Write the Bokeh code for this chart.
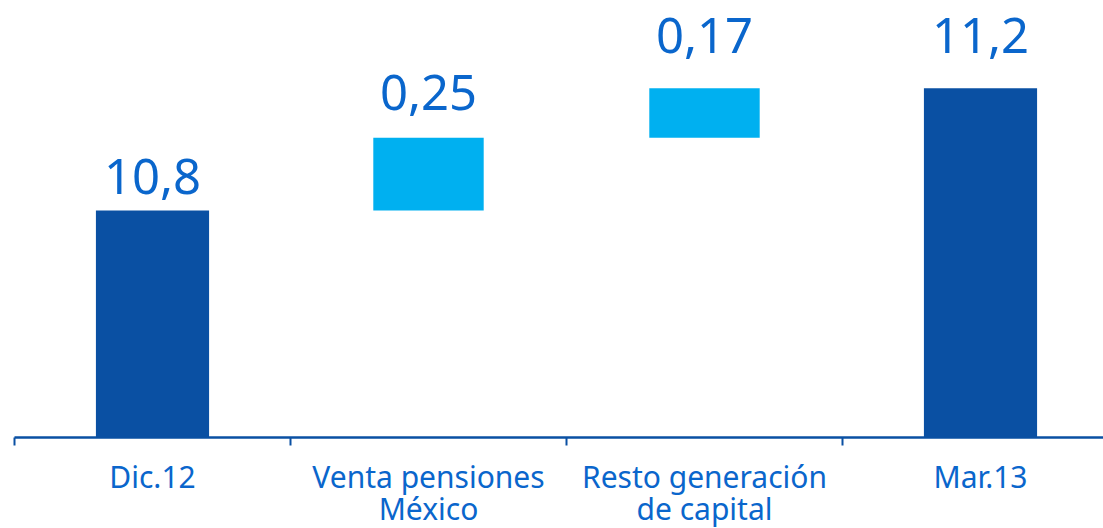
from bokeh.plotting import figure
from bokeh.models import ColumnDataSource, Range1d, FixedTicker
from bokeh.core.properties import value
from bokeh.embed import file_html
from bokeh.resources import INLINE

categories = ["Dic.12", "Venta pensiones\nMéxico", "Resto generación\nde capital", "Mar.13"]
amounts = [10.78, 0.25, 0.17, 11.20]
kinds = ["total", "delta", "delta", "total"]
value_labels = ["10,8", "0,25", "0,17", "11,2"]

DARK = "#0A50A3"
LIGHT = "#00B0F0"
TEXT = "#0A66CC"
FONT = "Noto Sans"
AXIS_MIN = 10.0

# waterfall geometry derived from the data
bottoms, tops, xs = [], [], []
running = 0.0
for i, (a, k) in enumerate(zip(amounts, kinds)):
    if k == "total":
        b, t = AXIS_MIN, a
        running = a
    else:
        b, t = running, running + a
        running = t
    bottoms.append(b)
    tops.append(t)
    xs.append(i + 0.5)

colors = [DARK if k == "total" else LIGHT for k in kinds]
widths = [0.41 if k == "total" else 0.40 for k in kinds]
label_offsets = [-34, -45, -53, -53]

src = ColumnDataSource(dict(x=xs, bottom=bottoms, top=tops, color=colors, w=widths,
                            label=value_labels, yoff=label_offsets))

p = figure(frame_width=1089, frame_height=437, output_backend="svg", toolbar_location=None,
           x_range=Range1d(0, 1089 / 276), y_range=Range1d(AXIS_MIN, AXIS_MIN + 437 / 291),
           min_border_left=14, min_border_right=0, min_border_top=0, min_border_bottom=0)
p.outline_line_color = None
p.background_fill_color = "white"
p.border_fill_color = "white"
p.grid.visible = False
p.yaxis.visible = False

p.vbar(x="x", bottom="bottom", top="top", width="w", color="color", source=src, line_color=None)
p.text(x="x", y="top", text="label", y_offset="yoff", source=src,
       text_font=value(FONT), text_font_size="49px", text_color=TEXT,
       text_align="center", text_baseline="alphabetic")

ax = p.xaxis[0]
ax.ticker = FixedTicker(ticks=xs, minor_ticks=[0, 1, 2, 3, 4])
ax.major_label_overrides = {x: c for x, c in zip(xs, categories)}
ax.axis_line_color = DARK
ax.axis_line_width = 2.5
ax.major_tick_line_color = None
ax.major_tick_out = 0
ax.major_tick_in = 0
ax.minor_tick_line_color = DARK
ax.minor_tick_line_width = 2
ax.minor_tick_out = 8
ax.minor_tick_in = 0
ax.major_label_standoff = 10
ax.major_label_text_font = FONT
ax.major_label_text_font_size = "30px"
ax.major_label_text_line_height = 0.8
ax.major_label_text_color = TEXT

open("out.html", "w").write(file_html(p, INLINE))
